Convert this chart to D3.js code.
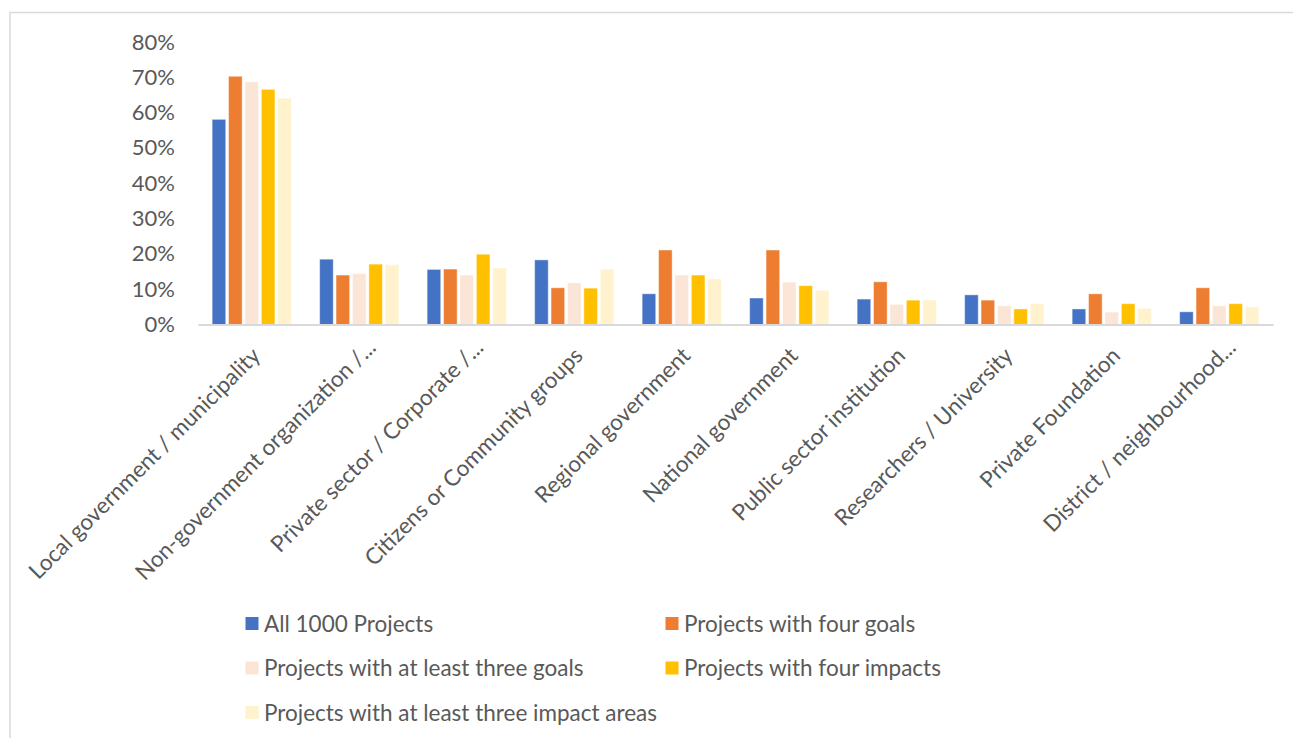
<!DOCTYPE html>
<html>
<head>
<meta charset="utf-8">
<script src="https://cdn.jsdelivr.net/npm/d3@7"></script>
<style>
  html, body { margin: 0; padding: 0; background: #fff; }
  svg { display: block; }
  text { font-family: Lato, "Open Sans", sans-serif; fill: #595959; }
</style>
</head>
<body>
<svg id="chart" width="1293" height="738"></svg>
<script>
// Share of projects by lead actor type, per project subset (in %)
const categories = [
  "Local government / municipality",
  "Non-government organization /...",
  "Private sector / Corporate /...",
  "Citizens or Community groups",
  "Regional government",
  "National government",
  "Public sector institution",
  "Researchers / University",
  "Private Foundation",
  "District / neighbourhood..."
];

const seriesNames = [
  "All 1000 Projects",
  "Projects with four goals",
  "Projects with at least three goals",
  "Projects with four impacts",
  "Projects with at least three impact areas"
];

const allProjects      = [58.1, 18.5, 15.6, 18.3,  8.7,  7.5,  7.2, 8.4, 4.4, 3.6];
const fourGoals        = [70.3, 14.0, 15.7, 10.4, 21.1, 21.1, 12.1, 6.9, 8.7, 10.4];
const threeGoals       = [68.7, 14.4, 14.0, 11.8, 14.0, 12.0,  5.7, 5.3, 3.5, 5.3];
const fourImpacts      = [66.6, 17.1, 19.9, 10.3, 14.0, 11.0,  6.9, 4.4, 5.9, 5.9];
const threeImpactAreas = [64.1, 16.9, 16.0, 15.7, 12.9,  9.7,  6.9, 5.9, 4.6, 5.0];

const yTicks = [0, 10, 20, 30, 40, 50, 60, 70, 80];

const colors = ["#4472C4", "#ED7D31", "#FBE5D6", "#FFC000", "#FFF2CC"];

const seriesValues = [allProjects, fourGoals, threeGoals, fourImpacts, threeImpactAreas];
const rows = categories.map((c, i) => ({
  category: c,
  values: seriesValues.map((vals, s) => ({ series: s, value: vals[i] }))
}));

const svg = d3.select("#chart");

// chart area frame
svg.append("rect")
  .attr("x", 10).attr("y", 12.5)
  .attr("width", 1400).attr("height", 900)
  .attr("fill", "none")
  .attr("stroke", "#D9D9D9")
  .attr("stroke-width", 1.5);

const plot = { left: 198, right: 1273, top: 42, bottom: 324.5 };

const x0 = d3.scaleBand()
  .domain(categories)
  .range([plot.left, plot.right])
  .paddingInner(0.237)
  .paddingOuter(0.1185);

const x1 = d3.scaleBand()
  .domain(d3.range(seriesNames.length))
  .range([0, x0.bandwidth()]);

const y = d3.scaleLinear()
  .domain([0, 80])
  .range([plot.bottom, plot.top]);

// y axis labels (no axis line, no gridlines)
const yAxis = d3.axisLeft(y)
  .tickValues(yTicks)
  .tickFormat(d => d + "%")
  .tickSize(0)
  .tickPadding(0);

const yG = svg.append("g")
  .attr("transform", `translate(175,0)`)
  .call(yAxis);
yG.select(".domain").remove();
yG.selectAll("text")
  .attr("font-family", "Lato, 'Open Sans', sans-serif")
  .attr("font-size", 22)
  .attr("fill", "#595959");

// bars
const groups = svg.append("g")
  .selectAll("g")
  .data(rows)
  .join("g")
  .attr("transform", d => `translate(${x0(d.category)},0)`);

const inset = 1.4;
groups.selectAll("rect")
  .data(d => d.values)
  .join("rect")
  .attr("x", d => x1(d.series) + inset)
  .attr("width", x1.bandwidth() - 2 * inset)
  .attr("y", d => y(d.value))
  .attr("height", d => y(0) - y(d.value))
  .attr("fill", d => colors[d.series])
  .attr("stroke", "#ffffff")
  .attr("stroke-opacity", 0.45)
  .attr("stroke-width", 1);

// category axis
const xAxis = d3.axisBottom(x0).tickSize(0).tickFormat("");
const xG = svg.append("g")
  .attr("transform", `translate(0,${plot.bottom})`)
  .call(xAxis);
xG.select(".domain")
  .attr("stroke", "#D9D9D9")
  .attr("stroke-width", 2);

// rotated category labels
svg.append("g")
  .selectAll("text")
  .data(categories)
  .join("text")
  .attr("text-anchor", "end")
  .attr("font-size", 22.5)
  .attr("transform", d => {
    const c = x0(d) + x0.bandwidth() / 2;
    const shift = d.endsWith("...") ? 8 : 0;
    return `translate(${c + 10 + shift},${357 - shift}) rotate(-45)`;
  })
  .text(d => d);

// legend: two columns, three rows
const legend = svg.append("g");
const legendCols = [245.5, 665.5];
const legendRowTop = 617, legendRowStep = 44.5;
const items = legend.selectAll("g")
  .data(seriesNames)
  .join("g")
  .attr("transform", (d, i) =>
    `translate(${legendCols[i % 2]},${legendRowTop + Math.floor(i / 2) * legendRowStep})`);

items.append("rect")
  .attr("width", 13).attr("height", 13)
  .attr("fill", (d, i) => colors[i]);

items.append("text")
  .attr("x", 18.5)
  .attr("y", 14.5)
  .attr("font-size", 22.5)
  .text(d => d);
</script>
</body>
</html>
